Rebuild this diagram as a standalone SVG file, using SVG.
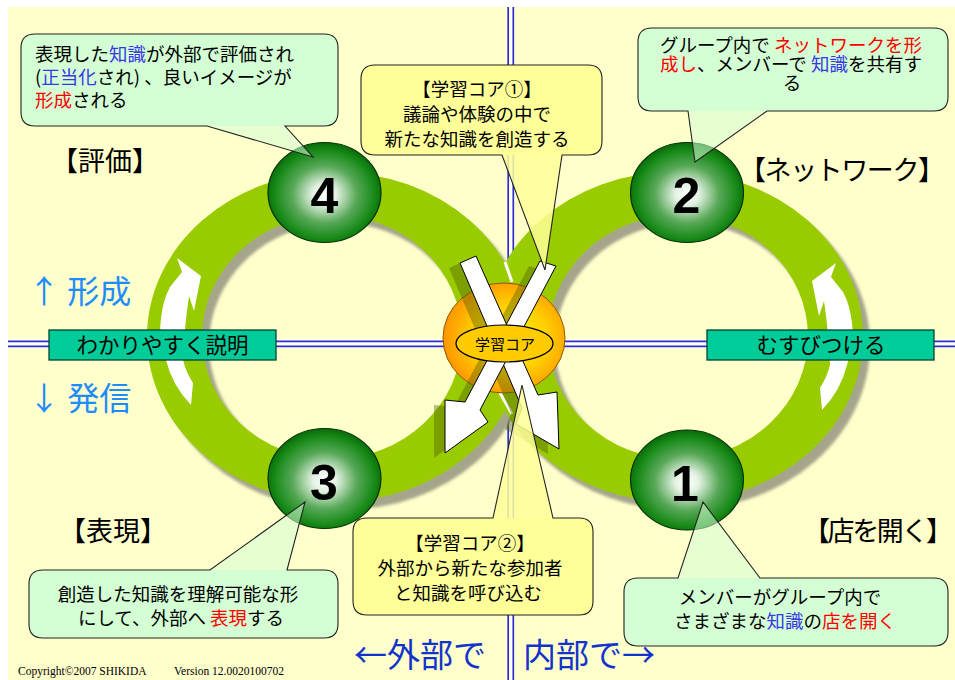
<svg xmlns="http://www.w3.org/2000/svg" width="955" height="680" viewBox="0 0 955 680">
<defs>
<radialGradient id="gNode" cx="50%" cy="52%" r="52%">
<stop offset="0" stop-color="#FFFFFF"/>
<stop offset="0.2" stop-color="#E4F2E4"/>
<stop offset="0.55" stop-color="#58A858"/>
<stop offset="0.85" stop-color="#178A17"/>
<stop offset="1" stop-color="#0A6A0A"/>
</radialGradient>
<radialGradient id="gCore" cx="55%" cy="50%" r="55%">
<stop offset="0" stop-color="#FFF200"/>
<stop offset="0.55" stop-color="#FFD000"/>
<stop offset="1" stop-color="#FF9500"/>
</radialGradient>
<filter id="soft" x="-5%" y="-5%" width="110%" height="110%"><feGaussianBlur stdDeviation="1.5"/></filter>
<path id="ringL" d="M147,337 A189,165 0 1,0 525,337 A189,165 0 1,0 147,337 Z M202,337 A130,122 0 1,0 462,337 A130,122 0 1,0 202,337 Z"/>
<path id="ringR" d="M485,337 A189,165 0 1,0 863,337 A189,165 0 1,0 485,337 Z M548,337 A130,122 0 1,0 808,337 A130,122 0 1,0 548,337 Z"/>
<path id="curv" d="M177,258 L201,276 L194,311 L189,296 Q184,330 183,360 Q186,372 193,383 L191,405 Q172,385 166,360 Q158,335 161,318 Q163,300 170,287 L182,272 Z"/>
<polygon id="xA" points="460,263 476,256 538,395 557,392 559,449 516,424 522,408"/>
<polygon id="xB" points="540,261 556,266 480,410 488,422 445,453 445,400 465,402"/>
</defs>
<style>
.jp{font-family:"Noto Sans CJK JP","Noto Sans CJK SC",sans-serif;}
.ring{fill:#99CC00;fill-rule:evenodd;}
.rshadow{fill:#A5A58C;fill-rule:evenodd;filter:url(#soft);}
.warrow{fill:#FFFFFF;}
.xarrow{fill:#FFFFFF;stroke:#000;stroke-width:1;stroke-linejoin:miter;}
.xshadow{fill:#4D5A00;opacity:0.4;}
.node{fill:url(#gNode);stroke:#003300;stroke-width:1.2;}
.num{font-family:"Liberation Sans",Arial,sans-serif;font-weight:bold;font-size:50px;text-anchor:middle;fill:#000;}
.gptr{fill:#D4FFD4;fill-opacity:0.55;}
.gbox{fill:#D4FFD4;}
.yptr{fill:#FFFF99;fill-opacity:0.85;}
.ybox{fill:#FFFF99;}
.outline{fill:none;stroke:#222;stroke-width:1.1;}
.ct{font-size:18.5px;fill:#000;}
.blue{fill:#3838E8;}
.red{fill:#FF0000;}
.big{font-size:27px;fill:#000;text-anchor:middle;}
.side{font-size:32px;fill:#1E8CFF;}
.bottom{font-size:33px;fill:#1133CC;}
.lbox{fill:#00CC99;stroke:#004433;stroke-width:1.3;}
.ltxt{font-size:21.5px;fill:#000;text-anchor:middle;}
.mid{text-anchor:middle;}
.bl{stroke:#2E2EC8;stroke-width:1.7;}
</style>

<rect x="8" y="7" width="947" height="673" fill="#FFFFCC"/>

<g id="axes">
<rect x="8" y="339.5" width="947" height="8.5" fill="#FFFFFF"/>
<line class="bl" x1="8" y1="341.3" x2="955" y2="341.3"/>
<line class="bl" x1="8" y1="346.3" x2="955" y2="346.3"/>
<rect x="507" y="7" width="7.5" height="673" fill="#FFFFFF"/>
<line class="bl" x1="508.2" y1="7" x2="508.2" y2="680"/>
<line class="bl" x1="513.3" y1="7" x2="513.3" y2="680"/>
</g>

<g id="connectors">
<use href="#ringR" class="rshadow" transform="translate(7,8)"/>
<use href="#ringL" class="rshadow" transform="translate(7,8)"/>
<use href="#ringR" class="ring"/>
<use href="#ringL" class="ring"/>
<line x1="505" y1="262" x2="512" y2="282" stroke="#FFFFFF" stroke-width="3"/>
<line x1="500" y1="393" x2="512" y2="414" stroke="#FFFFFF" stroke-width="3"/>
<use href="#curv" class="warrow"/>
<use href="#curv" class="warrow" transform="translate(1013,5) scale(-1,1)"/>
</g>

<g id="label-left">
<rect class="lbox" x="49" y="330" width="227" height="30"/>
<text class="jp ltxt" x="162.5" y="353">わかりやすく説明</text>
</g>
<g id="label-right">
<rect class="lbox" x="707" y="330" width="227" height="30"/>
<text class="jp ltxt" x="821" y="353">むすびつける</text>
</g>

<g id="core">
<ellipse cx="504" cy="338" rx="61" ry="55" fill="url(#gCore)" stroke="#8A5A00" stroke-width="1"/>
<use href="#xA" class="xshadow" transform="translate(-11,5)"/>
<use href="#xB" class="xshadow" transform="translate(-11,5)"/>
<use href="#xA" class="xarrow"/>
<use href="#xB" class="xarrow"/>
<ellipse cx="504.5" cy="343.5" rx="48.5" ry="18.5" fill="#FFCC00" stroke="#000" stroke-width="1.2"/>
<text class="jp mid" x="505" y="349.5" font-size="15">学習コア</text>
</g>

<g id="node4"><ellipse class="node" cx="324.5" cy="192.5" rx="56.5" ry="50"/><text class="num" x="324.5" y="213">4</text></g>
<g id="node2"><ellipse class="node" cx="687" cy="192.5" rx="56.5" ry="50"/><text class="num" x="686.5" y="213">2</text></g>
<g id="node3"><ellipse class="node" cx="324.5" cy="478.5" rx="56.5" ry="50"/><text class="num" x="324" y="500">3</text></g>
<g id="node1"><ellipse class="node" cx="687" cy="480" rx="56.5" ry="50"/><text class="num" x="685" y="501">1</text></g>

<g id="callout4">
<path class="gptr" d="M35,34 H324 Q338,34 338,48 V112 Q338,126 324,126 H285 L313,157 L207,126 H35 Q21,126 21,112 V48 Q21,34 35,34 Z"/>
<rect class="gbox" x="21" y="34" width="317" height="92" rx="14"/>
<path class="outline" d="M35,34 H324 Q338,34 338,48 V112 Q338,126 324,126 H285 L313,157 L207,126 H35 Q21,126 21,112 V48 Q21,34 35,34 Z"/>
<text class="jp ct" x="35" y="61">表現した<tspan class="blue">知識</tspan>が外部で評価され</text>
<text class="jp ct" x="35" y="84">(<tspan class="blue">正当化</tspan>され) 、良いイメージが</text>
<text class="jp ct" x="35" y="107"><tspan class="red">形成</tspan>される</text>
</g>

<g id="callout2">
<path class="gptr" d="M652,28 H934 Q948,28 948,42 V97 Q948,111 934,111 H767 L695,162 L688,111 H652 Q638,111 638,97 V42 Q638,28 652,28 Z"/>
<rect class="gbox" x="638" y="28" width="310" height="83" rx="14"/>
<path class="outline" d="M652,28 H934 Q948,28 948,42 V97 Q948,111 934,111 H767 L695,162 L688,111 H652 Q638,111 638,97 V42 Q638,28 652,28 Z"/>
<text class="jp ct mid" x="791" y="52" font-size="17">グループ内で <tspan class="red">ネットワークを形</tspan></text>
<text class="jp ct mid" x="791" y="71" font-size="17"><tspan class="red">成し</tspan>、メンバーで <tspan class="blue">知識</tspan>を共有す</text>
<text class="jp ct mid" x="792" y="90" font-size="17">る</text>
</g>

<g id="callout3">
<path class="gptr" d="M43,570 H210 L305,502 L287,570 H324 Q338,570 338,584 V624 Q338,638 324,638 H43 Q29,638 29,624 V584 Q29,570 43,570 Z"/>
<rect class="gbox" x="29" y="570" width="309" height="68" rx="14"/>
<path class="outline" d="M43,570 H210 L305,502 L287,570 H324 Q338,570 338,584 V624 Q338,638 324,638 H43 Q29,638 29,624 V584 Q29,570 43,570 Z"/>
<text class="jp ct mid" x="178" y="601" font-size="19">創造した知識を理解可能な形</text>
<text class="jp ct mid" x="181" y="625" font-size="19">にして、外部へ <tspan class="red">表現</tspan>する</text>
</g>

<g id="callout1">
<path class="gptr" d="M638,578 H678 L703,502 L760,578 H934 Q948,578 948,592 V632 Q948,646 934,646 H638 Q624,646 624,632 V592 Q624,578 638,578 Z"/>
<rect class="gbox" x="624" y="578" width="324" height="68" rx="14"/>
<path class="outline" d="M638,578 H678 L703,502 L760,578 H934 Q948,578 948,592 V632 Q948,646 934,646 H638 Q624,646 624,632 V592 Q624,578 638,578 Z"/>
<text class="jp ct mid" x="780" y="604">メンバーがグループ内で</text>
<text class="jp ct mid" x="785" y="628">さまざまな<tspan class="blue">知識</tspan>の<tspan class="red">店を開く</tspan></text>
</g>

<g id="core-callout1">
<path class="yptr" d="M375,65 H588 Q602,65 602,79 V141 Q602,155 588,155 H562 L545,270 L502,155 H375 Q361,155 361,141 V79 Q361,65 375,65 Z"/>
<rect class="ybox" x="361" y="65" width="241" height="90" rx="14"/>
<path class="outline" d="M375,65 H588 Q602,65 602,79 V141 Q602,155 588,155 H562 L545,270 L502,155 H375 Q361,155 361,141 V79 Q361,65 375,65 Z"/>
<text class="jp ct mid" x="477" y="96" font-size="19">【学習コア①】</text>
<text class="jp ct mid" x="477" y="121" font-size="19">議論や体験の中で</text>
<text class="jp ct mid" x="477" y="146" font-size="19">新たな知識を創造する</text>
</g>

<g id="core-callout2">
<path class="yptr" d="M367,518 H493 L522,385 L553,518 H579 Q593,518 593,532 V601 Q593,615 579,615 H367 Q353,615 353,601 V532 Q353,518 367,518 Z"/>
<rect class="ybox" x="353" y="518" width="240" height="97" rx="14"/>
<path class="outline" d="M367,518 H493 L522,385 L553,518 H579 Q593,518 593,532 V601 Q593,615 579,615 H367 Q353,615 353,601 V532 Q353,518 367,518 Z"/>
<text class="jp ct mid" x="470" y="550" font-size="19">【学習コア②】</text>
<text class="jp ct mid" x="470" y="575" font-size="19">外部から新たな参加者</text>
<text class="jp ct mid" x="468" y="600" font-size="19">と知識を呼び込む</text>
</g>

<g id="stage-labels">
<text class="jp big" x="105" y="171">【評価】</text>
<text class="jp big" x="842" y="180" textLength="206">【ネットワーク】</text>
<text class="jp big" x="113" y="541">【表現】</text>
<text class="jp big" x="878" y="541" textLength="150">【店を開く】</text>
<text class="jp side" x="28" y="303">↑ 形成</text>
<text class="jp side" x="28" y="410">↓ 発信</text>
<text class="jp bottom" x="354" y="667">←外部で</text>
<text class="jp bottom" x="523" y="667">内部で→</text>
<text x="18" y="675" font-family="'Liberation Serif','Times New Roman',serif" font-size="11.5" fill="#000">Copyright©2007 SHIKIDA</text>
<text x="174" y="675" font-family="'Liberation Serif','Times New Roman',serif" font-size="11.5" fill="#000">Version 12.0020100702</text>
</g>
</svg>
